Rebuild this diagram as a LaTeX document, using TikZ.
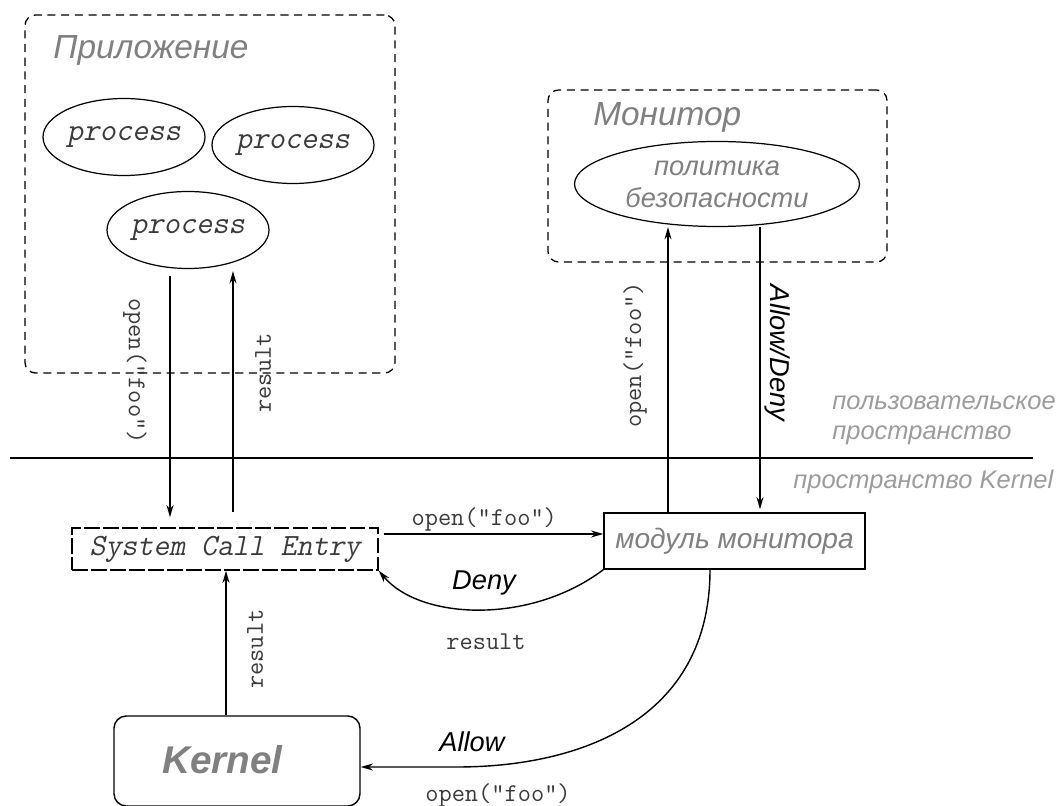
\documentclass[tikz,border=0pt]{standalone}
\usepackage{fontspec}
\setmainfont{Liberation Sans}
\setsansfont{Liberation Sans}
\newfontfamily\ttob{Latin Modern Mono}[FakeSlant=0.2]
\usepackage{tikz}
\usetikzlibrary{positioning,arrows.meta,shapes.geometric}
\definecolor{grey400}{HTML}{9C9C9C}
\definecolor{grey500}{HTML}{808080}
\definecolor{grey800}{HTML}{3A3A3A}
\tikzset{
  area/.style  ={draw, line width=0.75pt, dash pattern=on 4.6pt off 3.2pt,
                 rounded corners=6pt, inner sep=0pt},
  proc/.style  ={draw, ellipse, line width=0.7pt, inner sep=0pt,
                 minimum width=3.24cm, minimum height=1.54cm,
                 font=\ttob\fontsize{18}{21}\selectfont,
                 text=grey800},
  pol/.style   ={draw, ellipse, line width=0.7pt, inner sep=0pt,
                 minimum width=5.7cm, minimum height=1.7cm, align=center,
                 font=\sffamily\itshape\fontsize{15.5}{18.2}\selectfont,
                 text=grey500},
  box/.style   ={draw, line width=0.8pt, inner sep=0pt,
                 font=\sffamily\itshape\fontsize{16}{19}\selectfont,
                 text=grey500},
  boxd/.style  ={draw, line width=0.8pt, inner sep=0pt,
                 dash pattern=on 9pt off 1.8pt,
                 font=\ttob\fontsize{17.6}{21}\selectfont,
                 text=grey800},
  kbox/.style  ={draw, line width=0.8pt, rounded corners=7pt, inner sep=0pt},
  ttl/.style   ={font=\sffamily\itshape\fontsize{19}{22}\selectfont,
                 text=grey500, anchor=west, inner sep=0pt},
  kname/.style ={font=\sffamily\bfseries\itshape\fontsize{22}{26}\selectfont,
                 text=grey500, inner sep=0pt},
  lbl/.style   ={font=\ttfamily\fontsize{14.6}{17}\selectfont, text=grey800,
                 inner sep=0pt},
  verd/.style  ={font=\sffamily\itshape\fontsize{15.5}{18}\selectfont,
                 inner sep=0pt},
  spc/.style   ={font=\sffamily\itshape\fontsize{14.5}{17}\selectfont,
                 text=grey400, align=left, anchor=west, inner sep=0pt},
  ar/.style    ={-{Stealth[length=7pt,width=4pt]}, line width=0.8pt}
}

\begin{document}
\begin{tikzpicture}
\useasboundingbox (0,0) rectangle (21.24,16.1);
% user space
\node[area, minimum width=7.4cm, minimum height=7.16cm] (app) at (4.2,12.22) {};
\node[ttl] (appt) at (1.06,15.1) {Приложение};
\node[proc] (p1) at (2.48,13.36) {process};
\node[proc] (p2) at (5.86,13.2) {process};
\node[proc] (p3) at (3.76,11.5) {process};
\node[area, minimum width=6.78cm, minimum height=3.44cm] (mon) at (14.35,12.58) {};
\node[ttl] (mont) at (11.86,13.76) {Монитор};
\node[pol] (pol) at (14.34,12.42) {политика\\безопасности};

\coordinate (bl) at (0.2,6.94);
\coordinate (br) at (20.66,6.94);
\draw[line width=0.8pt] (bl) -- (br);
\node[spc] (us) at (16.64,7.7) {пользовательское\\пространство};
\node[spc] (ks) at (15.86,6.46) {пространство Kernel};

% kernel space
\node[boxd, minimum width=6.12cm, minimum height=0.84cm] (sce) at (4.5,5.12)
  {System Call Entry};
\node[box, minimum width=5.22cm, minimum height=1.12cm] (mod) at (14.69,5.28)
  {модуль монитора};
\node[kbox, minimum width=4.92cm, minimum height=1.8cm] (kern) at (4.74,0.88) {};
\node[kname] (kn) at (4.45,0.9) {Kernel};

\coordinate (q1) at ([xshift=-0.36cm]p3.south);
\coordinate (q2) at ([xshift=0.16cm]sce.north);
\draw[ar, shorten <=0.14cm, shorten >=0.2cm] (q1) -- (q1 |- sce.north);
\draw[ar, shorten <=0.3cm, shorten >=0.04cm] (q2) -- (q2 |- p3.south);
\node[lbl, rotate=-90] (l1) at (2.7,8.68) {open("foo")};
\node[lbl, rotate=90] (l2) at (5.26,8.64) {result};

\coordinate (q3) at ([xshift=-1.33cm]mod.north);
\coordinate (q4) at ([xshift=0.86cm]pol.south);
\draw[ar] (q3) -- (q3 |- pol.south);
\draw[ar, shorten >=0.06cm] (q4) -- (q4 |- mod.north);
\node[lbl, rotate=90] (l3) at (12.7,9.0) {open("foo")};
\node[verd, rotate=-90] (l4) at (15.56,9.04) {Allow/Deny};

\coordinate (q5) at ([yshift=0.3cm]sce.east);
\draw[ar, shorten <=0.1cm] (q5) -- node[lbl, above=1pt, pos=0.47] (l5)
  {open("foo")} (q5 -| mod.west);

\draw[ar] (mod.south west) .. controls (10.6,3.6) and (8.4,3.7) .. (sce.south east);
\node[verd] (l6) at (9.68,4.44) {Deny};
\node[lbl] (l7) at (9.72,3.26) {result};

\coordinate (q6) at ([xshift=-0.49cm]mod.south);
\coordinate (q7) at (9.14,0.76);
\draw[ar] (q6) .. controls (14.2,1.7) and (11.6,0.76) .. (q7) -- (q7 -| kern.east);
\node[verd] (l8) at (9.44,1.26) {Allow};
\node[lbl] (l9) at (9.96,0.2) {open("foo")};

\coordinate (q8) at ([xshift=-0.22cm]kern.north);
\draw[ar] (q8) -- (q8 |- sce.south);
\node[lbl, rotate=90] (l10) at (5.1,3.12) {result};
\end{tikzpicture}
\end{document}
